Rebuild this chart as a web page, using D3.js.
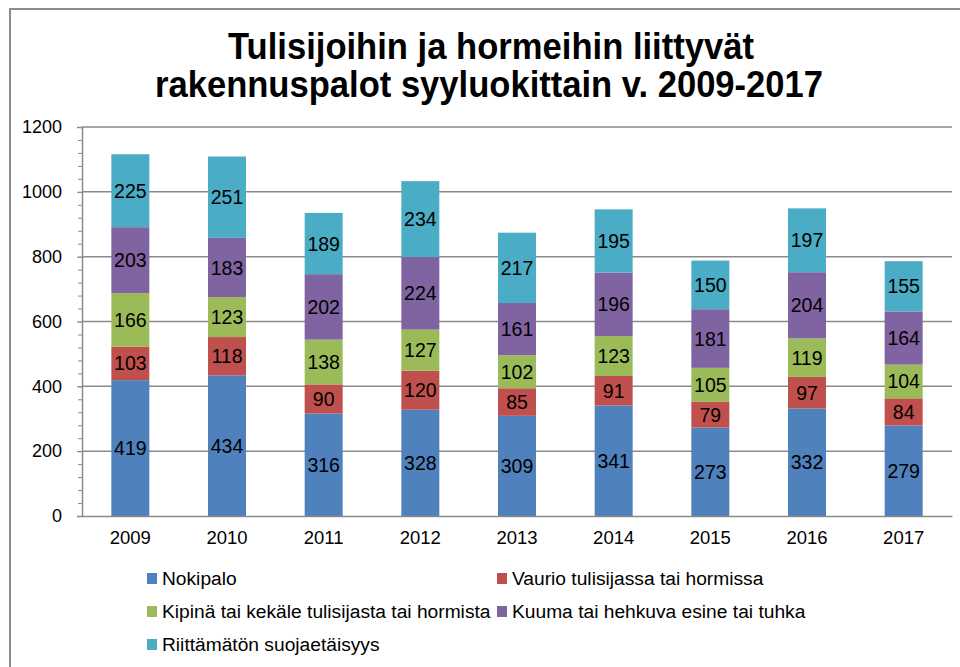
<!DOCTYPE html>
<html>
<head>
<meta charset="utf-8">
<script src="https://cdn.jsdelivr.net/npm/d3@7"></script>
<style>
  body { margin: 0; background: #fff; }
  svg text { font-family: "Liberation Sans", Arial, sans-serif; }
</style>
</head>
<body>
<svg width="960" height="667"></svg>
<script>
const years = ["2009", "2010", "2011", "2012", "2013", "2014", "2015", "2016", "2017"];
const seriesNames = [
  "Nokipalo",
  "Vaurio tulisijassa tai hormissa",
  "Kipinä tai kekäle tulisijasta tai hormista",
  "Kuuma tai hehkuva esine tai tuhka",
  "Riittämätön suojaetäisyys"
];
const nokipalo = [419, 434, 316, 328, 309, 341, 273, 332, 279];
const vaurio = [103, 118, 90, 120, 85, 91, 79, 97, 84];
const kipina = [166, 123, 138, 127, 102, 123, 105, 119, 104];
const kuuma = [203, 183, 202, 224, 161, 196, 181, 204, 164];
const riittamaton = [225, 251, 189, 234, 217, 195, 150, 197, 155];
const yTicks = [0, 200, 400, 600, 800, 1000, 1200];
const colors = ["#4f81bd", "#c0504d", "#9bbb59", "#8064a2", "#4bacc6"];

const seriesVals = [nokipalo, vaurio, kipina, kuuma, riittamaton];
const table = years.map((y, i) => {
  const row = {year: y};
  seriesNames.forEach((s, k) => row[s] = seriesVals[k][i]);
  return row;
});

const svg = d3.select("svg");
const plotLeft = 82, plotRight = 952, plotTop = 127, plotBottom = 516;

// frame
svg.append("path")
  .attr("d", "M10,667 L10,9 L960,9")
  .attr("fill", "none")
  .attr("stroke", "#8c8c8c")
  .attr("stroke-width", 2);

// title (glyphs a bit taller than wide in the original)
const title = svg.append("text")
  .attr("text-anchor", "middle")
  .attr("font-weight", "bold")
  .attr("font-size", 37)
  .attr("fill", "#000");
title.append("tspan").attr("x", 491).attr("y", 59)
  .attr("textLength", 526).attr("lengthAdjust", "spacingAndGlyphs")
  .text("Tulisijoihin ja hormeihin liittyvät");
title.append("tspan").attr("x", 489).attr("y", 97)
  .attr("textLength", 668).attr("lengthAdjust", "spacingAndGlyphs")
  .text("rakennuspalot syyluokittain v. 2009-2017");

const x = d3.scaleBand()
  .domain(years)
  .range([plotLeft, plotRight])
  .paddingInner(0.607)
  .paddingOuter(0.3035);

const y = d3.scaleLinear()
  .domain([0, 1200])
  .range([plotBottom, plotTop]);

// gridlines
svg.append("g")
  .selectAll("line")
  .data(yTicks.filter(d => d > 0))
  .join("line")
  .attr("x1", plotLeft).attr("x2", plotRight)
  .attr("y1", d => y(d)).attr("y2", d => y(d))
  .attr("stroke", "#8a8a8a")
  .attr("stroke-width", 1.5);

// minor ticks
const minor = svg.append("g")
  .attr("transform", `translate(${plotLeft},0)`)
  .call(d3.axisLeft(y).tickValues(d3.range(0, 1201, 40)).tickSize(4).tickFormat(""));
minor.select(".domain").remove();
minor.selectAll("line").attr("stroke", "#8a8a8a");

// y axis
const yAxis = svg.append("g")
  .attr("transform", `translate(${plotLeft},0)`)
  .call(d3.axisLeft(y).tickValues(yTicks).tickFormat(d3.format("d")).tickSize(5).tickPadding(15));
yAxis.select(".domain").attr("stroke", "#8a8a8a").attr("stroke-width", 1.5);
yAxis.selectAll("line").attr("stroke", "#8a8a8a");
yAxis.selectAll("text")
  .attr("font-size", 18)
  .attr("fill", "#000")
  .style("font-family", "Liberation Sans, Arial, sans-serif");

// bars
const stack = d3.stack().keys(seriesNames)(table);
const layers = svg.append("g")
  .selectAll("g")
  .data(stack)
  .join("g")
  .attr("fill", (d, i) => colors[i]);

layers.selectAll("rect")
  .data(d => d)
  .join("rect")
  .attr("x", d => x(d.data.year))
  .attr("y", d => y(d[1]))
  .attr("width", x.bandwidth())
  .attr("height", d => y(d[0]) - y(d[1]));

layers.selectAll("text")
  .data(d => d)
  .join("text")
  .attr("x", d => x(d.data.year) + x.bandwidth() / 2)
  .attr("y", d => (y(d[0]) + y(d[1])) / 2)
  .attr("dy", "0.36em")
  .attr("text-anchor", "middle")
  .attr("font-size", 19.5)
  .attr("fill", "#000")
  .text(d => d[1] - d[0]);

// x axis
const xAxis = svg.append("g")
  .attr("transform", `translate(0,${plotBottom})`)
  .call(d3.axisBottom(x).tickSize(0).tickPadding(15));
xAxis.select(".domain").attr("stroke", "#8a8a8a").attr("stroke-width", 1.5);
xAxis.selectAll("text")
  .attr("font-size", 18.5)
  .attr("fill", "#000")
  .style("font-family", "Liberation Sans, Arial, sans-serif");

// legend
const legendPos = [[147, 585], [497, 585], [147, 618], [497, 618], [147, 651]];
const legend = svg.append("g")
  .selectAll("g")
  .data(seriesNames)
  .join("g")
  .attr("transform", (d, i) => `translate(${legendPos[i][0]},${legendPos[i][1]})`);
legend.append("rect")
  .attr("x", 0).attr("y", -12)
  .attr("width", 10).attr("height", 11)
  .attr("fill", (d, i) => colors[i]);
legend.append("text")
  .attr("x", 15)
  .attr("y", 0)
  .attr("font-size", 19.2)
  .attr("fill", "#000")
  .text(d => d);
</script>
</body>
</html>
